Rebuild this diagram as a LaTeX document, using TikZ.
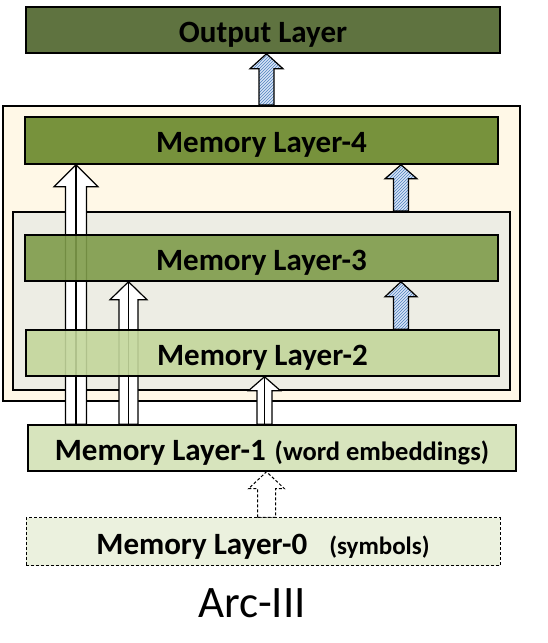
\documentclass[tikz,border=0pt]{standalone}
\usepackage{fontspec}
\setmainfont{Carlito}
\usetikzlibrary{calc,patterns}
\definecolor{outc}{RGB}{95,115,64}
\definecolor{ml4c}{RGB}{119,146,60}
\definecolor{ml3c}{RGB}{127,156,74}
\definecolor{ml2c}{RGB}{195,214,155}
\definecolor{ml1c}{RGB}{215,228,189}
\definecolor{ml0c}{RGB}{235,241,222}
\definecolor{creamc}{RGB}{255,248,231}
\definecolor{greyc}{RGB}{237,237,228}
\definecolor{hatchbg}{RGB}{215,228,246}
\definecolor{hatchfg}{RGB}{79,129,189}
\pgfdeclarelayer{frames}
\pgfdeclarelayer{arrows}
\pgfsetlayers{frames,arrows,main}
\newcommand\blockarrow[7]{%
  \path[#1] ($(#2.north -| #4)+(-#5,0)$) -- ($(#3.south -| #4)+(-#5,-#7)$)
    -- ($(#3.south -| #4)+(-#6,-#7)$) -- (#3.south -| #4)
    -- ($(#3.south -| #4)+(#6,-#7)$) -- ($(#3.south -| #4)+(#5,-#7)$)
    -- ($(#2.north -| #4)+(#5,0)$) -- cycle;}
\begin{document}
\begin{tikzpicture}[x=1pt,y=1pt,
  box/.style={draw, line width=1.5pt, inner sep=0pt, minimum height=46,
    text height=25pt, text depth=0pt,
    font=\bfseries\fontsize{31}{31}\selectfont},
  frame/.style={draw, line width=2pt, inner sep=0pt},
  whitearrow/.style={draw, fill=white, line width=1.2pt, line join=miter},
  bluearrow/.style={preaction={fill=hatchbg}, pattern=north east lines,
    pattern color=hatchfg, draw, line width=1.2pt},
  dasharrow/.style={draw, fill=white, line width=1pt, dash pattern=on 3pt off 2pt},
  midline/.style={draw, line width=1.2pt}]
\useasboundingbox (0,0) rectangle (548,643);
\coordinate (xa) at (76,0);
\coordinate (xb) at (128.5,0);
\coordinate (xc) at (264.5,0);
\coordinate (xd) at (266.5,0);
\coordinate (xe) at (401,0);
\begin{pgfonlayer}{frames}
\node[frame, fill=creamc, minimum width=517, minimum height=295] (outer) at (261.5,389.5) {};
\node[frame, fill=greyc, minimum width=497, minimum height=178] (inner) at (261.5,342) {};
\end{pgfonlayer}
\node[box, fill=outc, minimum width=474] (out) at (263,613) {Output Layer};
\node[box, fill=ml4c, minimum width=473, minimum height=47] (ml4) at (261.5,502.5) {Memory Layer-4};
\node[box, fill=ml3c, fill opacity=0.9, text opacity=1, minimum width=473] (ml3) at (261.5,385) {Memory Layer-3};
\node[box, fill=ml2c, fill opacity=0.9, text opacity=1, minimum width=473] (ml2) at (262.5,290) {Memory Layer-2};
\node[box, fill=ml1c, minimum width=488] (ml1) at (272,195) {Memory Layer-1\hspace{9pt}{\fontsize{26.5}{26}\selectfont(word embeddings)}};
\node[box, fill=ml0c, line width=1pt, dash pattern=on 3pt off 2pt, minimum width=474, minimum height=48] (ml0) at (263,101) {Memory Layer-0\hspace{22pt}{\fontsize{25}{25}\selectfont(symbols)}};
\node[font=\fontsize{45}{45}\selectfont, anchor=base, inner sep=0pt] (title) at (252,25) {Arc-III};
\begin{pgfonlayer}{arrows}
\blockarrow{whitearrow}{ml1}{ml4}{xa}{10.5}{22}{22}
\path[midline] (ml1.north -| xa) -- (ml4.south -| xa);
\blockarrow{whitearrow}{ml1}{ml3}{xb}{9.5}{18.5}{18}
\path[midline] (ml1.north -| xb) -- (ml3.south -| xb);
\blockarrow{whitearrow}{ml1}{ml2}{xc}{7.5}{16}{14}
\path[midline] (ml1.north -| xc) -- (ml2.south -| xc);
\end{pgfonlayer}
\blockarrow{bluearrow}{outer}{out}{xd}{7.5}{16.5}{15}
\blockarrow{bluearrow}{inner}{ml4}{xe}{7.5}{16}{14}
\blockarrow{bluearrow}{ml2}{ml3}{xe}{7.5}{16}{15}
\blockarrow{dasharrow}{ml0}{ml1}{xd}{9}{18}{17}
\end{tikzpicture}
\end{document}
